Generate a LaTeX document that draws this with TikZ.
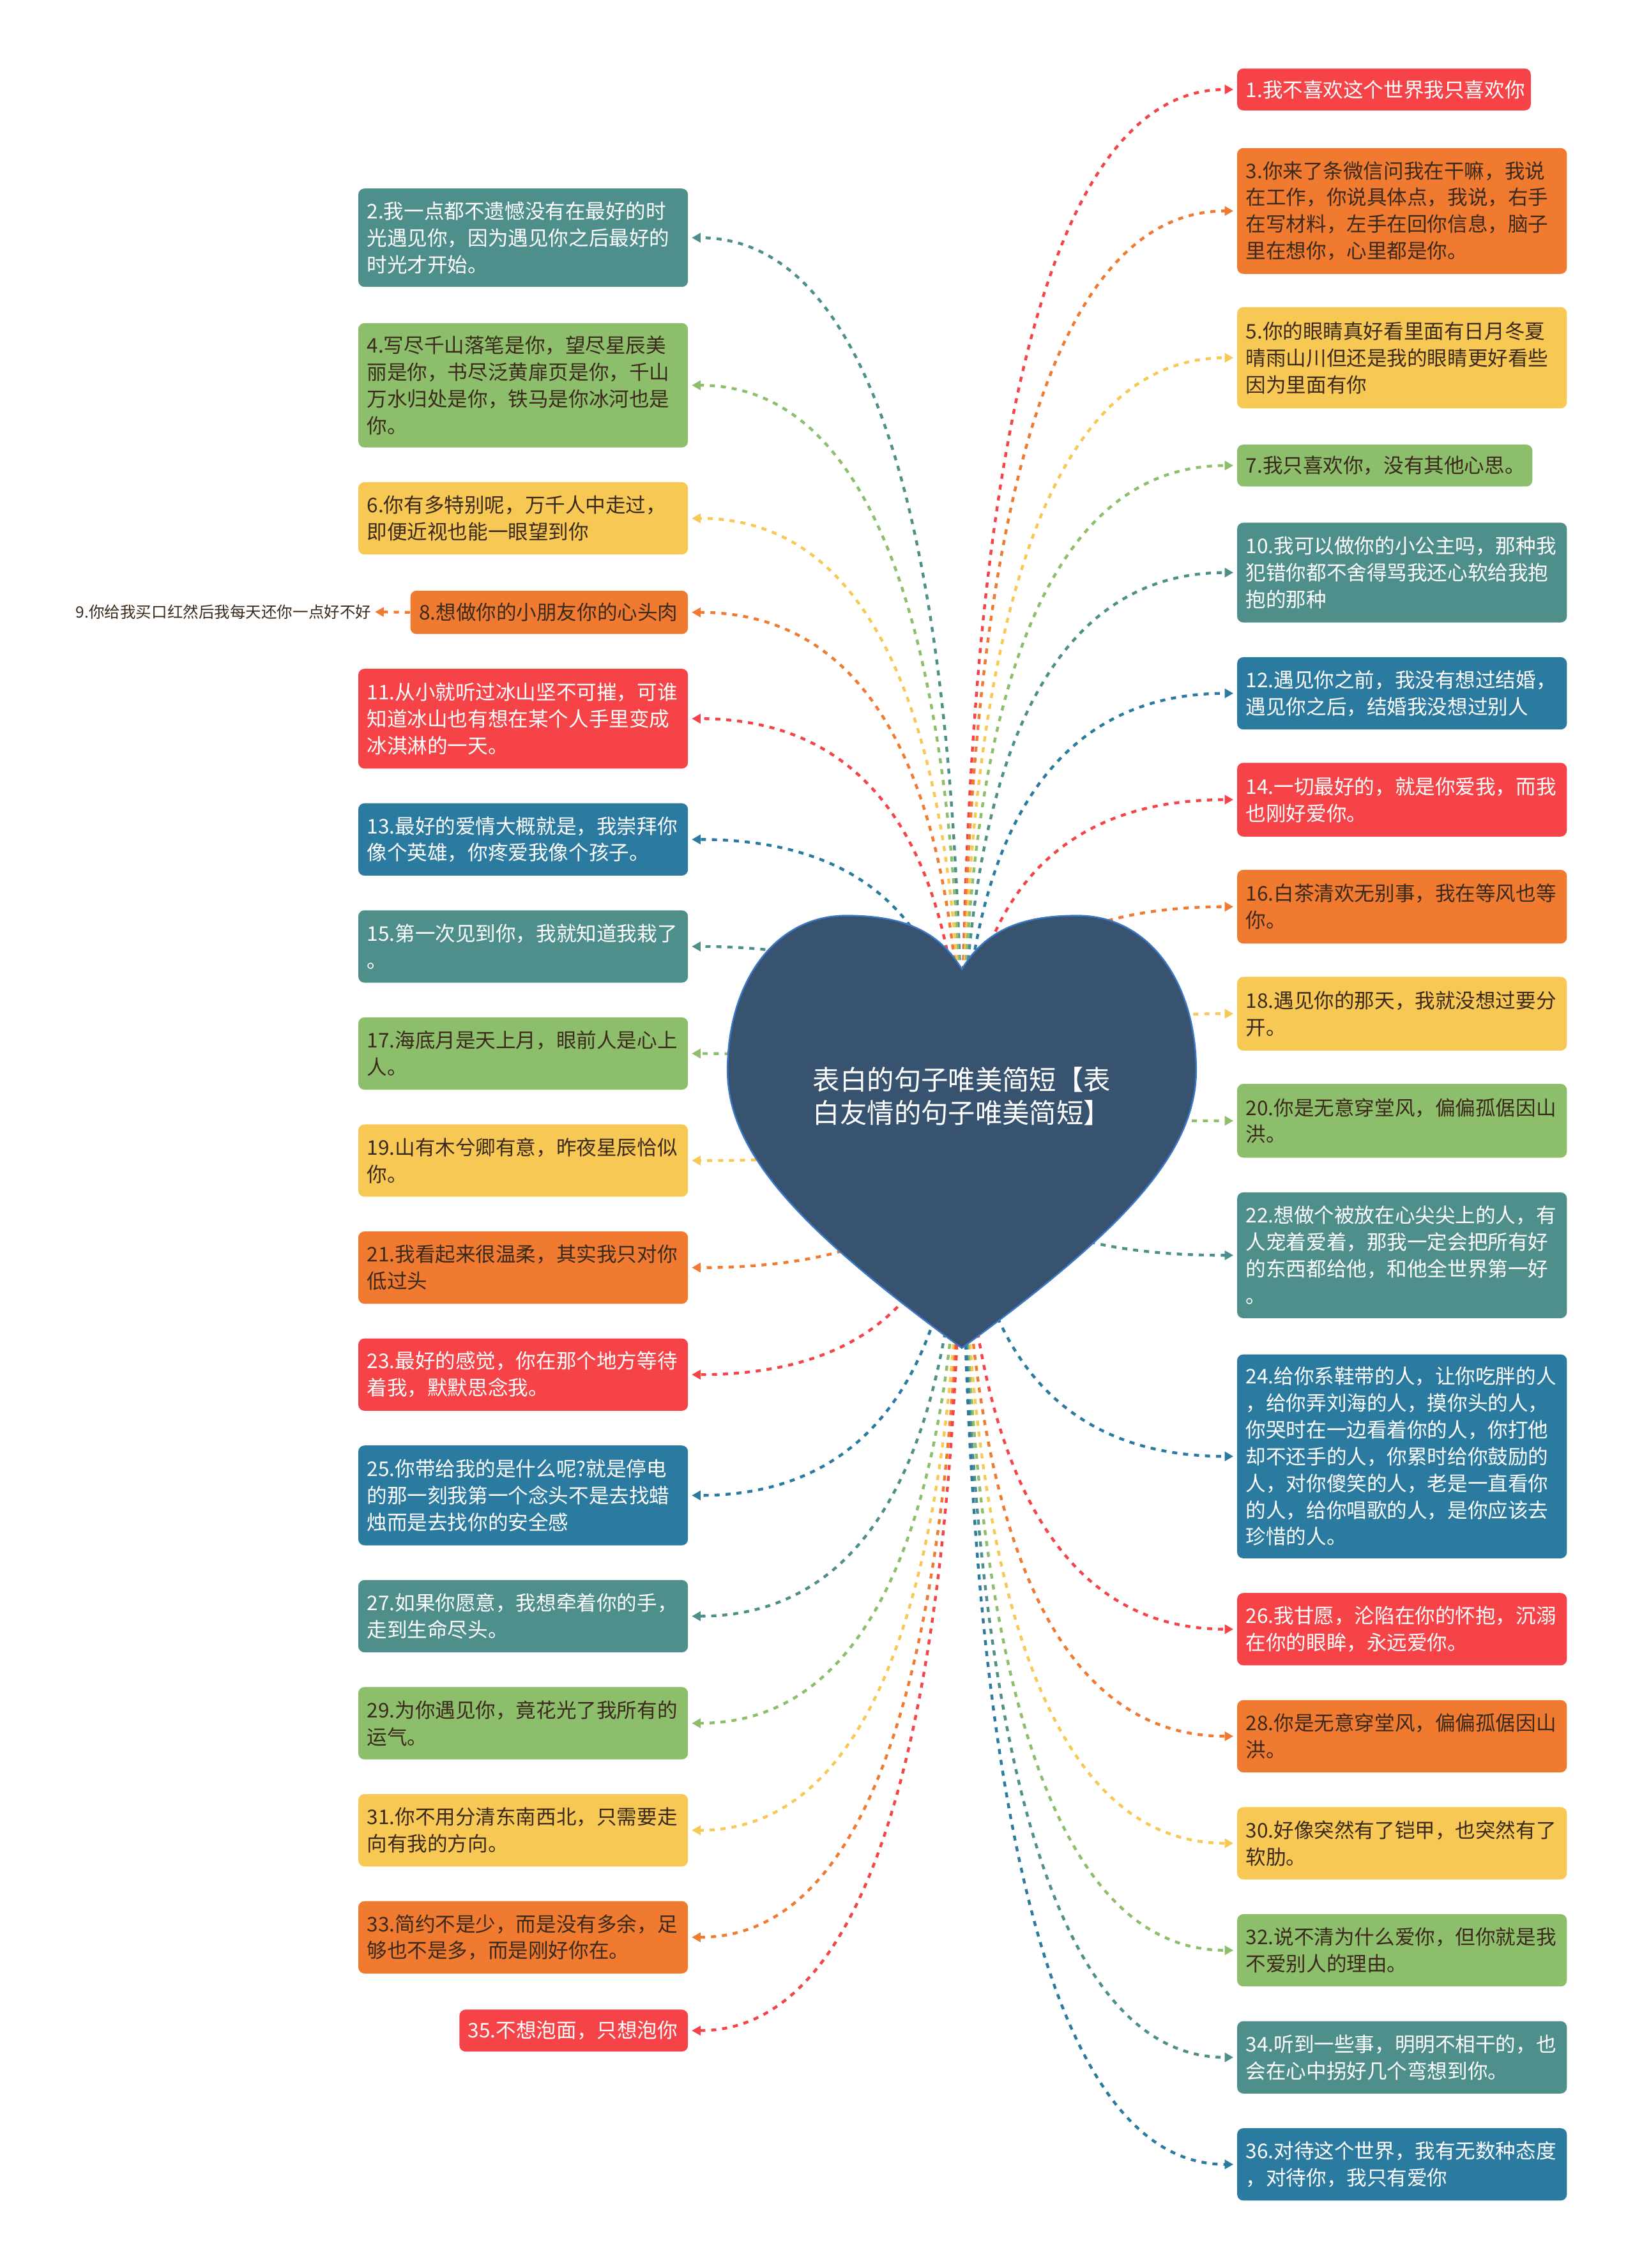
\documentclass[tikz,border=0pt]{standalone}
\usepackage{fontspec}
\setmainfont{Noto Sans CJK SC}
\usetikzlibrary{arrows.meta,calc}
\definecolor{cteal}{HTML}{4F8F8B}
\definecolor{cgreen}{HTML}{8DBE6C}
\definecolor{cyellow}{HTML}{F7C853}
\definecolor{corange}{HTML}{F07A2F}
\definecolor{cred}{HTML}{F54348}
\definecolor{cblue}{HTML}{2B7AA0}
\definecolor{cheart}{HTML}{37536F}
\definecolor{cheartline}{HTML}{3C78C8}
\definecolor{cdark}{HTML}{3B2A1C}
\newcommand\boxfont{\fontsize{7.9pt}{10.48pt}\selectfont}
\newcommand\linkto[2]{\draw[link,#2] (c) .. controls ($(c)!0.6667!(c |- #1)$) and ($(#1)!0.6667!(c |- #1)$) .. (#1);}
\tikzset{
  box/.style={rounded corners=2.4pt, inner xsep=3.4pt, inner ysep=0pt, text width=122.3pt, align=left, font=\boxfont},
  rbox/.style={box, anchor=north west},
  lbox/.style={box, anchor=north east},
  ht/.style={minimum height=#1*0.5664pt},
  sTeal/.style={fill=cteal, text=white},
  sGreen/.style={fill=cgreen, text=cdark},
  sYellow/.style={fill=cyellow, text=cdark},
  sOrange/.style={fill=corange, text=cdark},
  sRed/.style={fill=cred, text=white},
  sBlue/.style={fill=cblue, text=white},
  link/.style={dash pattern=on 2pt off 2.3pt, line width=1.1pt, -{Triangle[length=3.4pt,width=3.6pt]}, shorten >=1.3pt},
}
\begin{document}
\begin{tikzpicture}[x=0.5664pt, y=-0.5664pt]
\useasboundingbox (0,0) rectangle (1130,1568);
\coordinate (c) at (665,770);
% right column
\node[rbox, sRed, ht=29, text width=108.2pt] (n1) at (855,47) {1.我不喜欢这个世界我只喜欢你};
\node[rbox, sOrange, ht=87] (n3) at (855,102) {3.你来了条微信问我在干嘛，我说\\在工作，你说具体点，我说，右手\\在写材料，左手在回你信息，脑子\\里在想你，心里都是你。};
\node[rbox, sYellow, ht=70] (n5) at (855,212) {5.你的眼睛真好看里面有日月冬夏\\晴雨山川但还是我的眼睛更好看些\\因为里面有你};
\node[rbox, sGreen, ht=29, text width=108.8pt] (n7) at (855,307) {7.我只喜欢你，没有其他心思。};
\node[rbox, sTeal, ht=69] (n10) at (855,361) {10.我可以做你的小公主吗，那种我\\犯错你都不舍得骂我还心软给我抱\\抱的那种};
\node[rbox, sBlue, ht=50] (n12) at (855,454) {12.遇见你之前，我没有想过结婚，\\遇见你之后，结婚我没想过别人};
\node[rbox, sRed, ht=51] (n14) at (855,527) {14.一切最好的，就是你爱我，而我\\也刚好爱你。};
\node[rbox, sOrange, ht=51] (n16) at (855,601) {16.白茶清欢无别事，我在等风也等\\你。};
\node[rbox, sYellow, ht=51] (n18) at (855,675) {18.遇见你的那天，我就没想过要分\\开。};
\node[rbox, sGreen, ht=51] (n20) at (855,749) {20.你是无意穿堂风，偏偏孤倨因山\\洪。};
\node[rbox, sTeal, ht=87] (n22) at (855,824) {22.想做个被放在心尖尖上的人，有\\人宠着爱着，那我一定会把所有好\\的东西都给他，和他全世界第一好\\。};
\node[rbox, sBlue, ht=141] (n24) at (855,936) {24.给你系鞋带的人，让你吃胖的人\\，给你弄刘海的人，摸你头的人，\\你哭时在一边看着你的人，你打他\\却不还手的人，你累时给你鼓励的\\人，对你傻笑的人，老是一直看你\\的人，给你唱歌的人，是你应该去\\珍惜的人。};
\node[rbox, sRed, ht=50] (n26) at (855,1101) {26.我甘愿，沦陷在你的怀抱，沉溺\\在你的眼眸，永远爱你。};
\node[rbox, sOrange, ht=50] (n28) at (855,1175) {28.你是无意穿堂风，偏偏孤倨因山\\洪。};
\node[rbox, sYellow, ht=50] (n30) at (855,1249) {30.好像突然有了铠甲，也突然有了\\软肋。};
\node[rbox, sGreen, ht=50] (n32) at (855,1323) {32.说不清为什么爱你，但你就是我\\不爱别人的理由。};
\node[rbox, sTeal, ht=50] (n34) at (855,1397) {34.听到一些事，明明不相干的，也\\会在心中拐好几个弯想到你。};
\node[rbox, sBlue, ht=50] (n36) at (855,1471) {36.对待这个世界，我有无数种态度\\，对待你，我只有爱你};
% left column
\node[lbox, sTeal, ht=68] (n2) at (476,130) {2.我一点都不遗憾没有在最好的时\\光遇见你，因为遇见你之后最好的\\时光才开始。};
\node[lbox, sGreen, ht=86] (n4) at (476,223) {4.写尽千山落笔是你，望尽星辰美\\丽是你，书尽泛黄扉页是你，千山\\万水归处是你，铁马是你冰河也是\\你。};
\node[lbox, sYellow, ht=50] (n6) at (476,333) {6.你有多特别呢，万千人中走过，\\即便近视也能一眼望到你};
\node[lbox, sOrange, ht=30, text width=101.9pt] (n8) at (476,408) {8.想做你的小朋友你的心头肉};
\node[lbox, sRed, ht=69] (n11) at (476,462) {11.从小就听过冰山坚不可摧，可谁\\知道冰山也有想在某个人手里变成\\冰淇淋的一天。};
\node[lbox, sBlue, ht=50] (n13) at (476,555) {13.最好的爱情大概就是，我崇拜你\\像个英雄，你疼爱我像个孩子。};
\node[lbox, sTeal, ht=50] (n15) at (476,629) {15.第一次见到你，我就知道我栽了\\。};
\node[lbox, sGreen, ht=50] (n17) at (476,703) {17.海底月是天上月，眼前人是心上\\人。};
\node[lbox, sYellow, ht=50] (n19) at (476,777) {19.山有木兮卿有意，昨夜星辰恰似\\你。};
\node[lbox, sOrange, ht=50] (n21) at (476,851) {21.我看起来很温柔，其实我只对你\\低过头};
\node[lbox, sRed, ht=50] (n23) at (476,925) {23.最好的感觉，你在那个地方等待\\着我，默默思念我。};
\node[lbox, sBlue, ht=69] (n25) at (476,999) {25.你带给我的是什么呢?就是停电\\的那一刻我第一个念头不是去找蜡\\烛而是去找你的安全感};
\node[lbox, sTeal, ht=50] (n27) at (476,1092) {27.如果你愿意，我想牵着你的手，\\走到生命尽头。};
\node[lbox, sGreen, ht=50] (n29) at (476,1166) {29.为你遇见你，竟花光了我所有的\\运气。};
\node[lbox, sYellow, ht=50] (n31) at (476,1240) {31.你不用分清东南西北，只需要走\\向有我的方向。};
\node[lbox, sOrange, ht=50] (n33) at (476,1314) {33.简约不是少，而是没有多余，足\\够也不是多，而是刚好你在。};
\node[lbox, sRed, ht=29, text width=82.7pt] (n35) at (476,1389) {35.不想泡面，只想泡你};
\node[anchor=east, inner sep=0pt, text=cdark, font=\fontsize{6.14pt}{7.4pt}\selectfont] (n9) at (257,423) {9.你给我买口红然后我每天还你一点好不好};
% connectors
\linkto{n1.west}{cred}
\linkto{n3.west}{corange}
\linkto{n5.west}{cyellow}
\linkto{n7.west}{cgreen}
\linkto{n10.west}{cteal}
\linkto{n12.west}{cblue}
\linkto{n14.west}{cred}
\linkto{n16.west}{corange}
\linkto{n18.west}{cyellow}
\linkto{n20.west}{cgreen}
\linkto{n22.west}{cteal}
\linkto{n24.west}{cblue}
\linkto{n26.west}{cred}
\linkto{n28.west}{corange}
\linkto{n30.west}{cyellow}
\linkto{n32.west}{cgreen}
\linkto{n34.west}{cteal}
\linkto{n36.west}{cblue}
\linkto{n2.east}{cteal}
\linkto{n4.east}{cgreen}
\linkto{n6.east}{cyellow}
\linkto{n8.east}{corange}
\linkto{n11.east}{cred}
\linkto{n13.east}{cblue}
\linkto{n15.east}{cteal}
\linkto{n17.east}{cgreen}
\linkto{n19.east}{cyellow}
\linkto{n21.east}{corange}
\linkto{n23.east}{cred}
\linkto{n25.east}{cblue}
\linkto{n27.east}{cteal}
\linkto{n29.east}{cgreen}
\linkto{n31.east}{cyellow}
\linkto{n33.east}{corange}
\linkto{n35.east}{cred}
\draw[link, corange] (n8.west) -- (n9.east);
% heart
\filldraw[fill=cheart, draw=cheartline, line width=0.6pt]
  (665,670) .. controls (648,642) and (622,633) .. (585,633)
  .. controls (535,633) and (503,680) .. (503,740)
  .. controls (503,800) and (560,855) .. (665,932)
  .. controls (770,855) and (827,800) .. (827,740)
  .. controls (827,680) and (795,633) .. (745,633)
  .. controls (708,633) and (682,642) .. (665,670) -- cycle;
\node[text=white, align=left, inner sep=0pt, font=\fontsize{10.6pt}{13pt}\selectfont] (root) at (665,758) {表白的句子唯美简短【表\\白友情的句子唯美简短】};
\end{tikzpicture}
\end{document}
